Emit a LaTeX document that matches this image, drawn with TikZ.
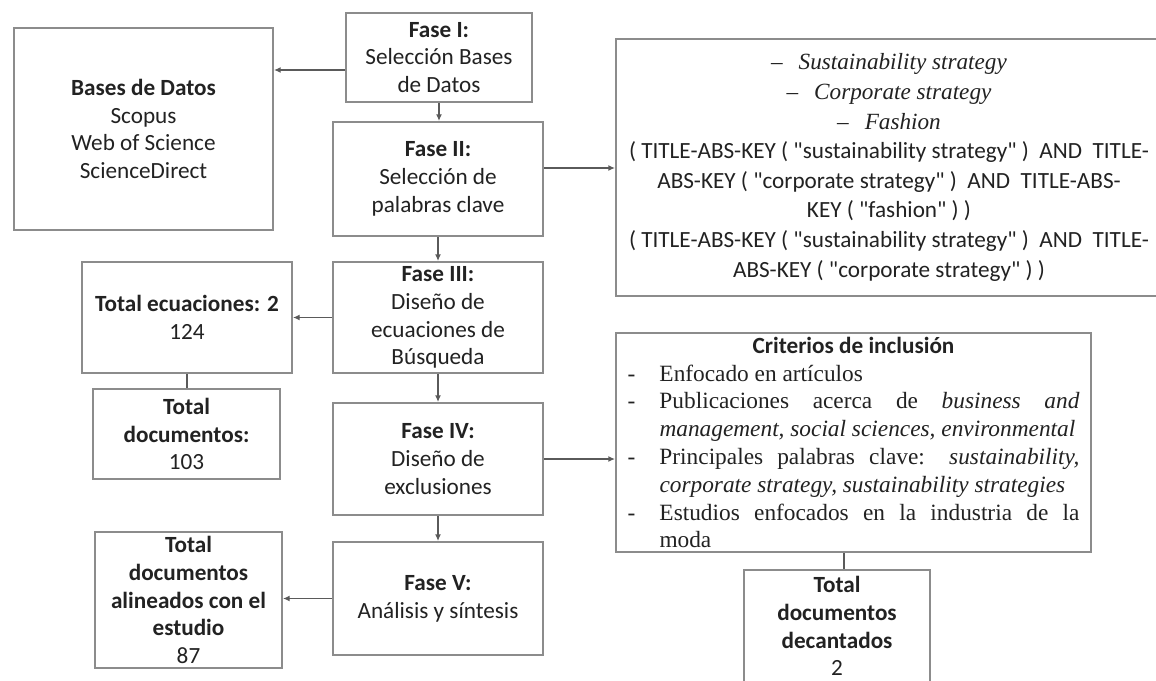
\documentclass[tikz,border=0pt]{standalone}
\usepackage{fontspec}
\setmainfont{Carlito}[Ligatures=TeXOff]
\newfontfamily\tnr{Liberation Serif}
\usetikzlibrary{arrows.meta}
\definecolor{boxgray}{HTML}{8C8C8C}
\definecolor{linegray}{HTML}{5A5A5A}
\definecolor{txt}{HTML}{222222}
\tikzset{
  box/.style={draw=boxgray, line width=1.5pt, rectangle, inner sep=0pt, align=center,
    text=txt, font=\fontsize{17.4}{20.8}\selectfont},
  boxtext/.style={inner sep=0pt, align=center, text=txt, font=\fontsize{17.4}{20.8}\selectfont},
  arr/.style={draw=linegray, line width=1.1pt, -{Latex[length=5pt,width=4.5pt]}},
  plainline/.style={draw=linegray, line width=1.1pt},
}
\begin{document}
\begin{tikzpicture}[x=0.75pt,y=-0.75pt]
\useasboundingbox (0,0) rectangle (1156,681);
\fill[white] (0,0) rectangle (1156,681);
\clip (0,0) rectangle (1156,681);

\node[box, minimum width=194.25pt, minimum height=151.5pt] (bases) at (143.5,129)
  {\textbf{Bases de Datos}\\Scopus\\Web of Science\\ScienceDirect};
\node[box, minimum width=139.5pt, minimum height=66.75pt] (f1) at (439,57.5)
  {\textbf{Fase I:}\\Selección Bases\\de Datos};
\node[box, minimum width=157.5pt, minimum height=85.5pt] (f2) at (438,179)
  {\textbf{Fase II:}\\Selección de\\palabras clave};
\node[box, minimum width=157.5pt, minimum height=83.25pt] (f3) at (438,317.5)
  {\textbf{Fase III:}\\Diseño de\\ecuaciones de\\Búsqueda};
\node[box, minimum width=157.5pt, minimum height=84pt] (f4) at (438,459)
  {\textbf{Fase IV:}\\Diseño de\\exclusiones};
\node[box, minimum width=157.5pt, minimum height=84.75pt] (f5) at (438,598.5)
  {\textbf{Fase V:}\\Análisis y síntesis};
\node[box, minimum width=157.5pt, minimum height=83.25pt] (te) at (187,317.5)
  {\textbf{Total ecuaciones: 2}\\124};
\node[box, minimum width=140.25pt, minimum height=67.5pt] (td) at (186.5,434)
  {\textbf{Total}\\\textbf{documentos:}\\103};
\node[box, minimum width=140.25pt, minimum height=102pt] (al) at (188.5,600)
  {\textbf{Total}\\\textbf{documentos}\\\textbf{alineados con el}\\\textbf{estudio}\\87};
\node[box, minimum width=409.5pt, minimum height=192.75pt,
      font=\fontsize{17.4}{22.2}\selectfont] (kw) at (889,167.5)
  {{\tnr\itshape –\hspace{12pt}Sustainability strategy}\\
   {\tnr\itshape –\hspace{12pt}Corporate strategy}\\
   {\tnr\itshape –\hspace{12pt}Fashion}\\
   ( TITLE-ABS-KEY ( "sustainability strategy" )~~AND~~TITLE-\\
   ABS-KEY ( "corporate strategy" )~~AND~~TITLE-ABS-\\
   KEY ( "fashion" ) )\\
   ( TITLE-ABS-KEY ( "sustainability strategy" )~~AND~~TITLE-\\
   ABS-KEY ( "corporate strategy" ) )};
\node[box, align=justify, text width=339pt, minimum width=356.25pt, minimum height=164.25pt,
      font=\fontsize{17.4}{20.85}\selectfont] (cr) at (853.5,442.5)
  {\parindent=0pt
   \makebox[\hsize][c]{\bfseries Criterios de inclusión}\par
   \tnr\fontsize{17.5}{20.85}\selectfont
   \hangindent=24pt \hangafter=1 \noindent\makebox[24pt][l]{-}Enfocado en artículos\par
   \hangindent=24pt \hangafter=1 \noindent\makebox[24pt][l]{-}Publicaciones acerca de \textit{business and}\linebreak
     \textit{management, social sciences, environmental}\par
   \hangindent=24pt \hangafter=1 \noindent\makebox[24pt][l]{-}Principales palabras clave: \textit{sustainability,}\linebreak
     \textit{corporate strategy, sustainability strategies}\par
   \hangindent=24pt \hangafter=1 \noindent\makebox[24pt][l]{-}Estudios enfocados en la industria de la\linebreak
     moda\par};
\node[box, minimum width=139.5pt, minimum height=97.5pt] (dc) at (837,635) {};
\node[boxtext] (dct) at (837,626)
  {\textbf{Total}\\\textbf{documentos}\\\textbf{decantados}\\2};

\coordinate (y70) at (0,70);
\coordinate (y168) at (0,168);
\coordinate (x844) at (844,0);
\draw[arr] (f1.west |- y70) -- (bases.east |- y70);
\draw[arr] (f1.south) -- (f1.south |- f2.north);
\draw[arr] (f2.east |- y168) -- (kw.west |- y168);
\draw[arr] (f2.south) -- (f3.north);
\draw[arr] (f3.west) -- (te.east |- f3.west);
\draw[plainline] (te.south) -- (te.south |- td.north);
\draw[arr] (f3.south) -- (f4.north);
\draw[arr] (f4.east) -- (cr.west |- f4.east);
\draw[arr] (f4.south) -- (f5.north);
\draw[arr] (f5.west) -- (al.east |- f5.west);
\draw[plainline] (x844 |- cr.south) -- (x844 |- dc.north);
\end{tikzpicture}
\end{document}
